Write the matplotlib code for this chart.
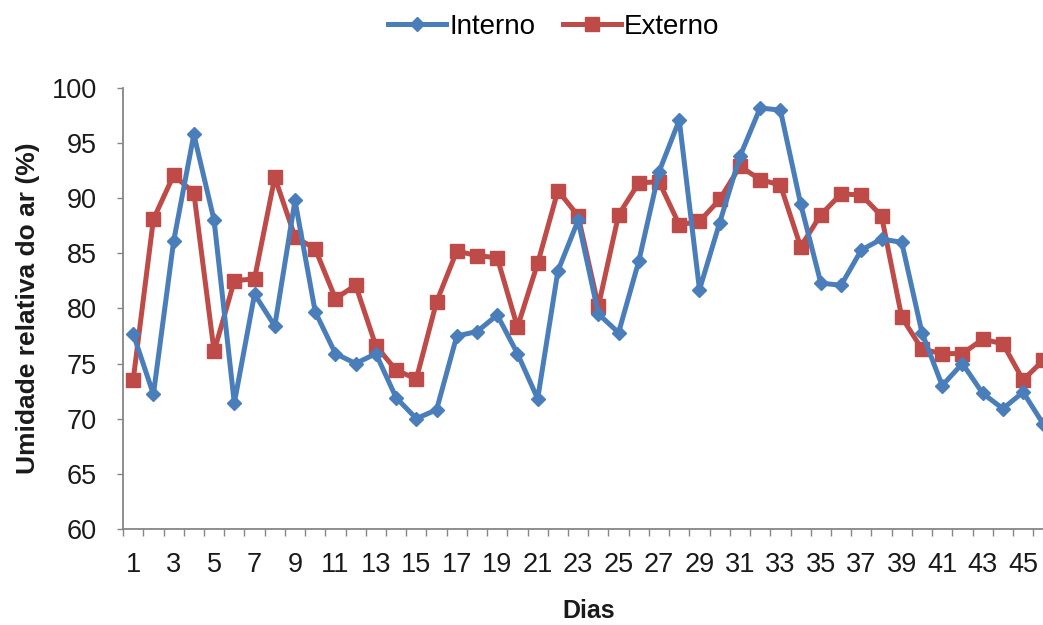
import matplotlib
matplotlib.use("Agg")
import matplotlib.pyplot as plt
from matplotlib.ticker import FixedLocator

days = list(range(1, 47))
interno = [77.7, 72.2, 86.1, 95.8, 88.0, 71.4, 81.3, 78.4, 89.8, 79.7,
           75.9, 75.0, 75.9, 71.9, 70.0, 70.8, 77.5, 77.9, 79.4, 75.9,
           71.8, 83.4, 88.0, 79.5, 77.8, 84.3, 92.4, 97.1, 81.7, 87.8,
           93.8, 98.2, 98.0, 89.5, 82.3, 82.1, 85.3, 86.3, 86.0, 77.8,
           73.0, 75.0, 72.3, 70.9, 72.4, 69.5]
externo = [73.5, 88.1, 92.1, 90.5, 76.1, 82.5, 82.7, 91.9, 86.5, 85.4,
           80.9, 82.1, 76.6, 74.4, 73.6, 80.6, 85.2, 84.8, 84.6, 78.3,
           84.1, 90.7, 88.4, 80.2, 88.5, 91.4, 91.5, 87.6, 87.9, 89.9,
           92.9, 91.7, 91.2, 85.6, 88.5, 90.4, 90.3, 88.4, 79.2, 76.3,
           75.9, 75.9, 77.2, 76.8, 73.5, 75.3]
tick_labels_days = [d for d in days if d % 2 == 1]
yticks = [60, 65, 70, 75, 80, 85, 90, 95, 100]

plt.rcParams['font.family'] = ['Liberation Sans', 'DejaVu Sans']

fig = plt.figure(figsize=(10.43, 6.25), dpi=100)
ax = fig.add_axes([0.118, 0.154, 0.892, 0.705])

blue = '#4A7EBB'
red = '#BE4B48'
ax.plot(days, interno, color=blue, lw=3.6, marker='D', ms=7.5, mfc=blue, mec=blue,
        label='Interno', zorder=3)
ax.plot(days, externo, color=red, lw=3.6, marker='s', ms=10, mfc=red, mec=red,
        label='Externo', zorder=2)

ax.set_xlim(0.5, 46.5)
ax.set_ylim(60, 100)
ax.set_yticks(yticks)
ax.set_yticklabels([str(v) for v in yticks])

# category boundary ticks, labels on odd days
ax.xaxis.set_major_locator(FixedLocator([d + 0.5 for d in range(0, 47)]))
ax.xaxis.set_major_formatter(plt.NullFormatter())
ax.xaxis.set_minor_locator(FixedLocator(tick_labels_days))
ax.set_xticklabels([str(d) for d in tick_labels_days], minor=True)
ax.tick_params(axis='x', which='major', length=5, width=1, color='#868686', direction='out')
ax.tick_params(axis='x', which='minor', length=0, labelsize=19.5, pad=17, colors='#1a1a1a')
ax.tick_params(axis='y', length=4, width=1, color='#868686', labelsize=19.5, pad=15, labelcolor='#1a1a1a')

for s in ['top', 'right']:
    ax.spines[s].set_visible(False)
for s in ['left', 'bottom']:
    ax.spines[s].set_color('#868686')
    ax.spines[s].set_linewidth(1.3)

ax.set_xlabel('Dias', fontsize=18, fontweight='bold', labelpad=15, color='#1a1a1a')
ax.set_ylabel('Umidade relativa do ar (%)', fontsize=19, fontweight='bold', labelpad=8, color='#1a1a1a')

fig.legend(loc='center', bbox_to_anchor=(0.531, 0.957), ncol=2, frameon=False,
           fontsize=20, handlelength=2.1, columnspacing=1.0, handletextpad=0.1)

fig.savefig('out.png', dpi=100)
